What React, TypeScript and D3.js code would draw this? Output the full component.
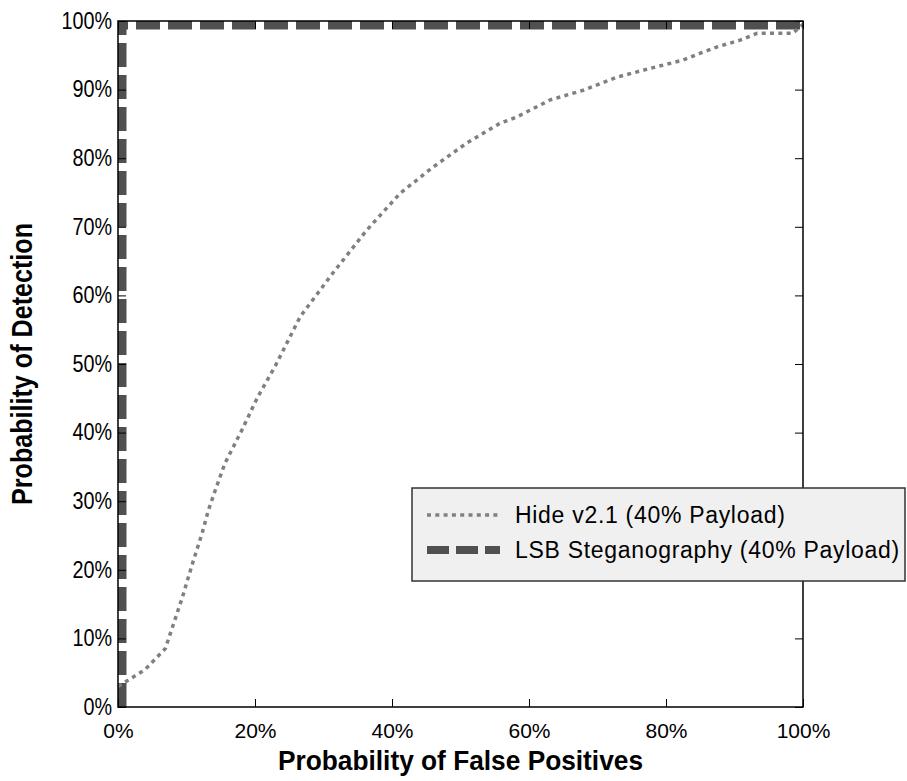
import React, { useEffect, useRef } from 'react';
import * as d3 from 'd3';

// Hide v2.1 ROC curve (percent)
const hideFpr = [0, 3.9, 6.9, 9.4, 10.9, 12.3, 13.2, 14.2, 15.6, 18.1, 20.4, 22.9, 26.6, 31.4, 36.3, 41.2, 46, 50.9, 55.8, 58.2, 63.1, 67.9, 72.8, 77.7, 82.5, 85, 87.4, 90.8, 93.3, 98.5, 100];
const hideTpr = [3, 5.4, 8.5, 16, 21, 25.4, 28.7, 31.6, 35.5, 40.4, 45.2, 49.6, 56.9, 63.3, 69.5, 74.9, 78.7, 82.2, 85.1, 86, 88.5, 89.9, 91.8, 93.1, 94.3, 95.3, 96.2, 97.2, 98.2, 98.2, 99.5];

// LSB steganography ROC curve (percent)
const lsbFpr = [0, 0, 100];
const lsbTpr = [0, 100, 100];

const xTicks = [0, 20, 40, 60, 80, 100];
const yTicks = [0, 10, 20, 30, 40, 50, 60, 70, 80, 90, 100];

const seriesNames = ['Hide v2.1 (40% Payload)', 'LSB Steganography (40% Payload)'];

const App: React.FC = () => {
  const ref = useRef<SVGSVGElement>(null);

  useEffect(() => {
    if (!ref.current) return;
    document.body.style.margin = '0';
    const svg = d3.select(ref.current);
    svg.selectAll('*').remove();

    const margin = { top: 21, right: 104, bottom: 74, left: 118 };
    const W = 907;
    const H = 781;
    const width = W - margin.left - margin.right;
    const height = H - margin.top - margin.bottom;

    const x = d3.scaleLinear().domain([0, 100]).range([0, width]);
    const y = d3.scaleLinear().domain([0, 100]).range([height, 0]);

    const g = svg.append('g').attr('transform', `translate(${margin.left},${margin.top})`);

    svg.append('defs').append('clipPath').attr('id', 'plot-clip')
      .append('rect').attr('width', width).attr('height', height);

    const line = d3.line<[number, number]>().x(d => x(d[0])).y(d => y(d[1]));

    // LSB dashed
    g.append('path')
      .datum(lsbFpr.map((v, i) => [v, lsbTpr[i]] as [number, number]))
      .attr('clip-path', 'url(#plot-clip)')
      .attr('d', line)
      .attr('fill', 'none')
      .attr('stroke', '#505050')
      .attr('stroke-width', 17)
      .attr('stroke-dasharray', '24,8');

    // Hide dotted
    g.append('path')
      .datum(hideFpr.map((v, i) => [v, hideTpr[i]] as [number, number]))
      .attr('d', line)
      .attr('fill', 'none')
      .attr('stroke', '#808080')
      .attr('stroke-width', 3.5)
      .attr('stroke-dasharray', '4,4.3');

    const fmt = (d: d3.NumberValue) => `${d}%`;
    const font = '"Liberation Sans", Arial, sans-serif';

    // bottom axis
    const bottom = g.append('g')
      .attr('transform', `translate(0,${height})`)
      .call(d3.axisBottom(x).tickValues(xTicks).tickSizeInner(-8).tickSizeOuter(0).tickPadding(16).tickFormat(fmt));
    // left axis
    const left = g.append('g')
      .call(d3.axisLeft(y).tickValues(yTicks).tickSizeInner(-8).tickSizeOuter(0).tickPadding(6).tickFormat(fmt));
    // top & right: ticks only
    const top = g.append('g')
      .call(d3.axisTop(x).tickValues(xTicks).tickSizeInner(-8).tickSizeOuter(0).tickFormat(() => ''));
    const right = g.append('g')
      .attr('transform', `translate(${width},0)`)
      .call(d3.axisRight(y).tickValues(yTicks).tickSizeInner(-8).tickSizeOuter(0).tickFormat(() => ''));

    [bottom, left, top, right].forEach(a => {
      a.select('.domain').remove();
      a.selectAll('line').attr('stroke', '#000').attr('stroke-width', 1);
      a.selectAll('text')
        .attr('font-family', font)
        .attr('font-size', 21)
        .attr('fill', '#000');
    });
    // y tick labels are taller and narrower
    left.selectAll('text')
      .attr('font-size', 23)
      .attr('x', 0)
      .attr('transform', 'translate(-6,0) scale(0.86,1)');

    // frame
    g.append('rect')
      .attr('width', width)
      .attr('height', height)
      .attr('fill', 'none')
      .attr('stroke', '#000')
      .attr('stroke-width', 1.5);

    // axis titles
    g.append('text')
      .attr('x', width / 2)
      .attr('y', height + 63)
      .attr('text-anchor', 'middle')
      .attr('font-family', font)
      .attr('font-weight', 'bold')
      .attr('font-size', 27)
      .attr('textLength', 365)
      .attr('lengthAdjust', 'spacingAndGlyphs')
      .text('Probability of False Positives');

    g.append('text')
      .attr('transform', 'rotate(-90)')
      .attr('x', -height / 2)
      .attr('y', -86)
      .attr('text-anchor', 'middle')
      .attr('font-family', font)
      .attr('font-weight', 'bold')
      .attr('font-size', 29)
      .attr('textLength', 282)
      .attr('lengthAdjust', 'spacingAndGlyphs')
      .text('Probability of Detection');

    // legend
    const lg = svg.append('g').attr('transform', 'translate(412,488)');
    lg.append('rect')
      .attr('width', 493)
      .attr('height', 93)
      .attr('fill', '#f0f0f0')
      .attr('stroke', '#333')
      .attr('stroke-width', 1.5);
    const styles = [
      { stroke: '#808080', w: 3.5, dash: '4,4.3' },
      { stroke: '#505050', w: 8, dash: '22,7' },
    ];
    seriesNames.forEach((name, i) => {
      const cy = 27 + i * 35;
      lg.append('line')
        .attr('x1', 15).attr('x2', 88)
        .attr('y1', cy).attr('y2', cy)
        .attr('stroke', styles[i].stroke)
        .attr('stroke-width', styles[i].w)
        .attr('stroke-dasharray', styles[i].dash);
      lg.append('text')
        .attr('x', 103)
        .attr('y', cy)
        .attr('dy', '0.36em')
        .attr('font-family', font)
        .attr('font-size', 23)
        .attr('letter-spacing', 0.7)
        .attr('fill', '#000')
        .text(name);
    });
  }, []);

  return <svg ref={ref} width={907} height={781} style={{ display: 'block', background: '#fff' }} />;
};

export default App;
